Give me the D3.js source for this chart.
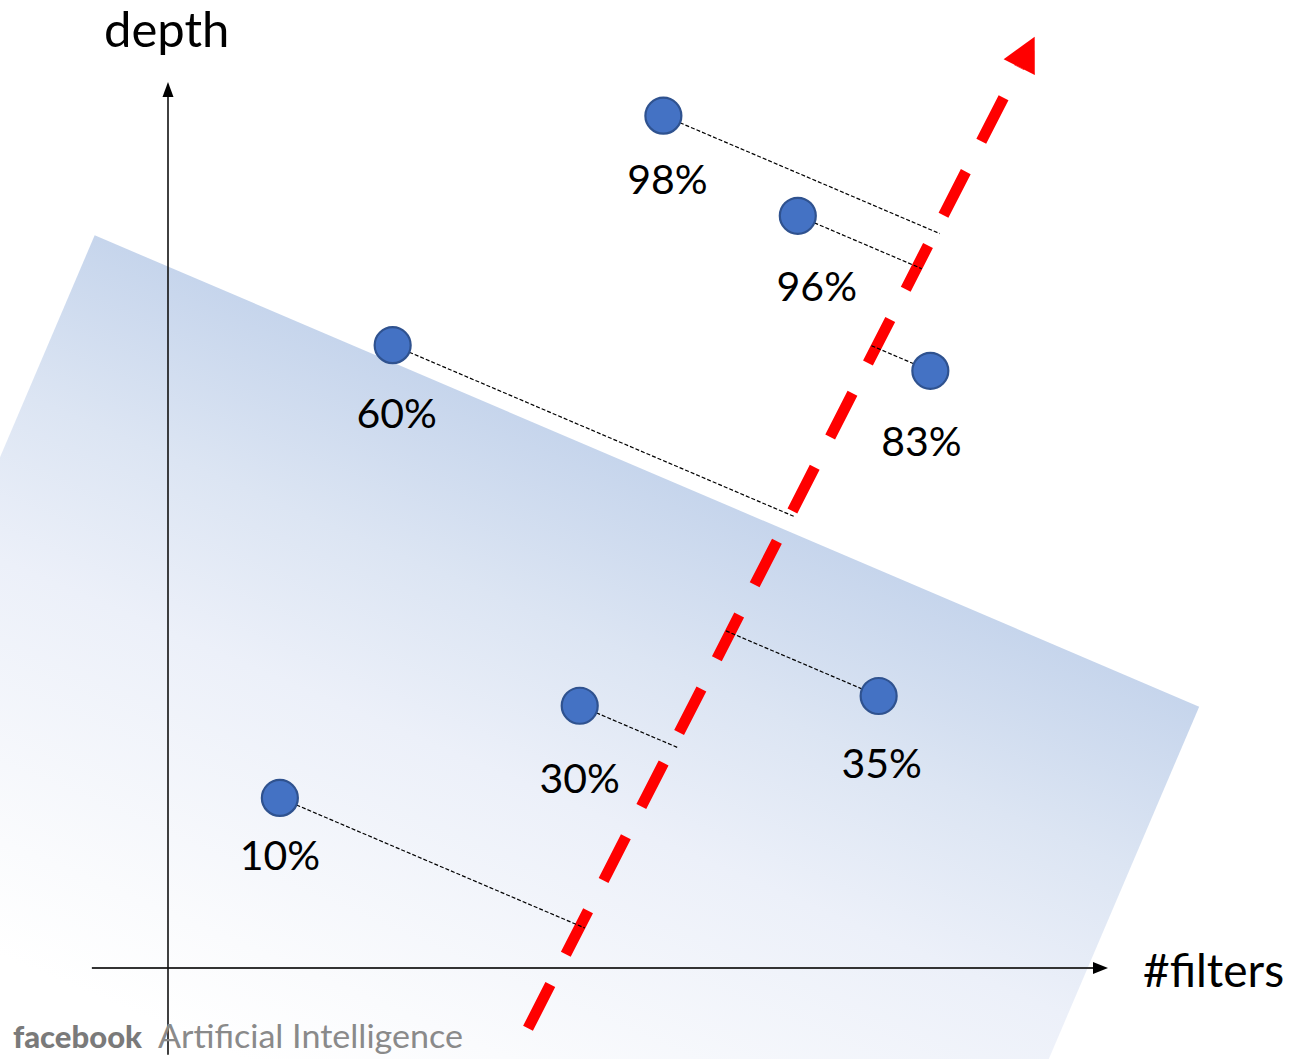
<!DOCTYPE html>
<html>
<head>
<meta charset="utf-8">
<script src="https://cdn.jsdelivr.net/npm/d3@7"></script>
<style>
  body { margin: 0; background: #fff; }
  svg { display: block; }
  text { font-family: Lato, "Open Sans", sans-serif; }
</style>
</head>
<body>
<svg id="chart" width="1299" height="1059"></svg>
<script>
// Networks: accuracy label, width (#filters) and depth, in axis units
const labels  = ["98%", "96%", "83%", "60%", "35%", "30%", "10%"];
const filters = [52.7, 67.0, 81.1, 23.9, 75.6, 43.8, 11.9];
const depth   = [96.2, 84.9, 67.4, 70.3, 30.7, 29.6, 19.2];

// Direction of increasing accuracy (start, arrow tip), axis units
const trendX = [38.3, 92.2];
const trendY = [-6.8, 105.1];

// Upper edge of the shaded region, axis units
const bandX = [-7.8, 109.7];
const bandY = [82.7, 29.5];

const axisTitles = ["#filters", "depth"];
const brandWord = "facebook";
const brandTitle = "Artificial Intelligence";

// Label placement relative to each marker (layout)
const labelDx = [4, 19, -9, 4, 3, 0, 0];
const labelDy = [78, 85, 85, 83, 82, 87, 72];

const svg = d3.select("#chart");

const x = d3.scaleLinear().domain([0, 100]).range([168, 1108]);
const y = d3.scaleLinear().domain([0, 100]).range([968, 82]);

const pts = labels.map((l, i) => ({ label: l, px: x(filters[i]), py: y(depth[i]), i }));

// ---- shaded region (rectangle rotated along its upper edge) ----
const e0 = [x(bandX[0]), y(bandY[0])], e1 = [x(bandX[1]), y(bandY[1])];
const elen = Math.hypot(e1[0] - e0[0], e1[1] - e0[1]);
const u = [(e1[0] - e0[0]) / elen, (e1[1] - e0[1]) / elen];   // along edge
const n = [-u[1], u[0]];                                         // into region
const deep = 1100;
const bandPoly = [
  e0, e1,
  [e1[0] + n[0] * deep, e1[1] + n[1] * deep],
  [e0[0] + n[0] * deep, e0[1] + n[1] * deep]
];

const defs = svg.append("defs");
const grad = defs.append("linearGradient")
  .attr("id", "bandFade")
  .attr("gradientUnits", "userSpaceOnUse")
  .attr("x1", e0[0]).attr("y1", e0[1])
  .attr("x2", e0[0] + n[0] * 700).attr("y2", e0[1] + n[1] * 700);
grad.append("stop").attr("offset", 0).attr("stop-color", "#c6d5ec");
grad.append("stop").attr("offset", 0.25).attr("stop-color", "#dce5f3");
grad.append("stop").attr("offset", 0.48).attr("stop-color", "#ecf0f9");
grad.append("stop").attr("offset", 0.85).attr("stop-color", "#fafbfd");
grad.append("stop").attr("offset", 1).attr("stop-color", "#ffffff");

svg.append("path")
  .attr("d", d3.line()(bandPoly) + "Z")
  .attr("fill", "url(#bandFade)");

// ---- axes with arrowheads ----
const axes = svg.append("g").attr("class", "axes");
const ox = x(0), oy = y(0);
const xEnd = x(100), yEnd = y(100);
axes.append("line")
  .attr("x1", x(-8.1)).attr("y1", oy).attr("x2", xEnd - 12).attr("y2", oy)
  .attr("stroke", "#333").attr("stroke-width", 2);
axes.append("path")
  .attr("d", d3.line()([[xEnd, oy], [xEnd - 15, oy - 6], [xEnd - 15, oy + 6]]) + "Z")
  .attr("fill", "#000");
axes.append("line")
  .attr("x1", ox).attr("y1", y(-9.8)).attr("x2", ox).attr("y2", yEnd + 12)
  .attr("stroke", "#111").attr("stroke-width", 1.6);
axes.append("path")
  .attr("d", d3.line()([[ox, yEnd], [ox - 5.5, yEnd + 15], [ox + 5.5, yEnd + 15]]) + "Z")
  .attr("fill", "#000");

axes.append("text")
  .attr("x", xEnd + 35).attr("y", oy + 19)
  .attr("font-size", 46).attr("fill", "#000")
  .text(axisTitles[0]);
axes.append("text")
  .attr("x", ox - 64).attr("y", yEnd - 35)
  .attr("font-size", 49).attr("fill", "#000")
  .text(axisTitles[1]);

// ---- trend arrow (red, dashed) ----
const A = [x(trendX[0]), y(trendY[0])];
const T = [x(trendX[1]), y(trendY[1])];
const tlen = Math.hypot(T[0] - A[0], T[1] - A[1]);
const v = [(T[0] - A[0]) / tlen, (T[1] - A[1]) / tlen];
const headLen = 34, headHalf = 17.5;
const baseMid = [T[0] - v[0] * headLen, T[1] - v[1] * headLen];
const vn = [-v[1], v[0]];

svg.append("line")
  .attr("x1", A[0]).attr("y1", A[1]).attr("x2", baseMid[0]).attr("y2", baseMid[1])
  .attr("stroke", "#ff0000").attr("stroke-width", 11)
  .attr("stroke-dasharray", "49,34");
svg.append("path")
  .attr("d", d3.line()([
    T,
    [baseMid[0] + vn[0] * headHalf, baseMid[1] + vn[1] * headHalf],
    [baseMid[0] - vn[0] * headHalf, baseMid[1] - vn[1] * headHalf]
  ]) + "Z")
  .attr("fill", "#ff0000");

// ---- projections of each network onto the trend, parallel to the region edge ----
const cross = (a, b) => a[0] * b[1] - a[1] * b[0];
const r = 18;
const proj = pts.map(p => {
  const t = cross([A[0] - p.px, A[1] - p.py], v) / cross(u, v);
  const s = Math.sign(t);
  return {
    x1: p.px + u[0] * s * r, y1: p.py + u[1] * s * r,
    x2: p.px + u[0] * (t + s * 5), y2: p.py + u[1] * (t + s * 5)
  };
});
svg.append("g").selectAll("line").data(proj).join("line")
  .attr("x1", d => d.x1).attr("y1", d => d.y1)
  .attr("x2", d => d.x2).attr("y2", d => d.y2)
  .attr("stroke", "#000").attr("stroke-width", 1.2)
  .attr("stroke-dasharray", "4,2");

// ---- network markers and labels ----
svg.append("g").selectAll("circle").data(pts).join("circle")
  .attr("cx", d => d.px).attr("cy", d => d.py).attr("r", r)
  .attr("fill", "#4472c4").attr("stroke", "#2f528f").attr("stroke-width", 2.2);

svg.append("g").selectAll("text").data(pts).join("text")
  .attr("x", d => d.px + labelDx[d.i]).attr("y", d => d.py + labelDy[d.i])
  .attr("text-anchor", "middle")
  .attr("font-size", 41).attr("fill", "#000")
  .text(d => d.label);

// ---- brand mark ----
svg.append("text")
  .attr("x", 13).attr("y", 1048)
  .attr("font-size", 31).attr("font-weight", 900).attr("fill", "#7a7a7a")
  .attr("textLength", 129).attr("lengthAdjust", "spacingAndGlyphs")
  .text(brandWord);
svg.append("text")
  .attr("x", 158).attr("y", 1048)
  .attr("font-size", 32).attr("fill", "#8a8a8a")
  .attr("textLength", 305).attr("lengthAdjust", "spacingAndGlyphs")
  .text(brandTitle);
</script>
</body>
</html>
